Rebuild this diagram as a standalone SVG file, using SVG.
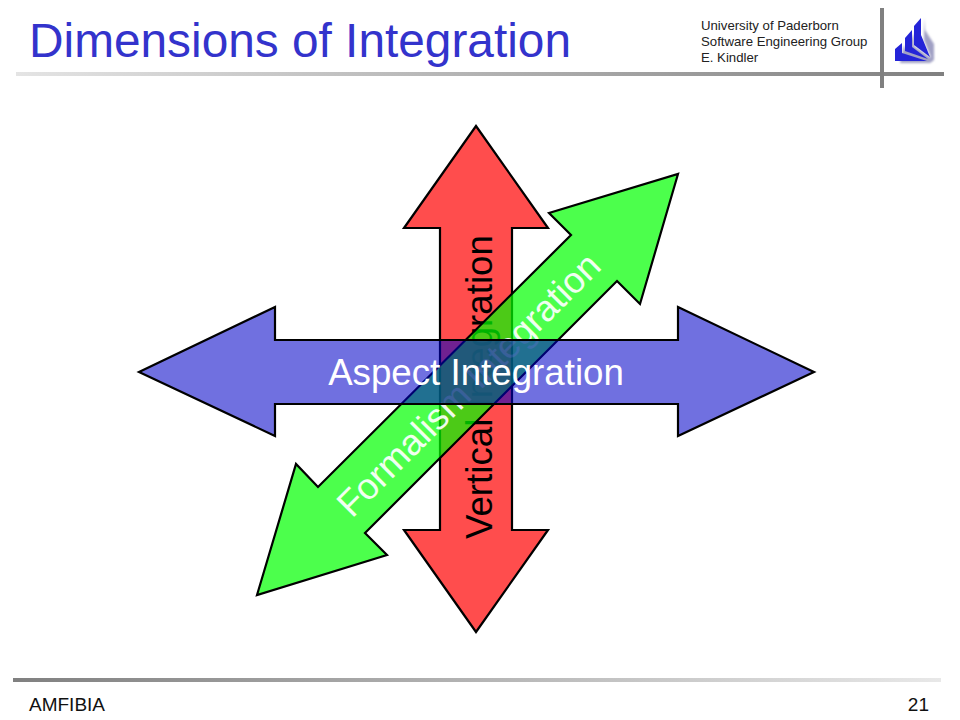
<svg xmlns="http://www.w3.org/2000/svg" width="960" height="720" viewBox="0 0 960 720">
<style>
.sans{font-family:"Liberation Sans",Arial,sans-serif}
.arrow{stroke:#000;stroke-width:2.2;stroke-linejoin:miter}
.hdr{font-size:13.2px;fill:#222}
.foot{font-size:19px;fill:#111}
.lbl{font-size:36.7px}
</style>
<defs>
<linearGradient id="topRule" gradientUnits="userSpaceOnUse" x1="16" y1="0" x2="944" y2="0"><stop offset="0" stop-color="#e4e4e4"/><stop offset="1" stop-color="#808080"/></linearGradient>
<linearGradient id="botRule" gradientUnits="userSpaceOnUse" x1="13" y1="0" x2="941" y2="0"><stop offset="0" stop-color="#808080"/><stop offset="1" stop-color="#e8e8e8"/></linearGradient>
<linearGradient id="vertText" gradientUnits="userSpaceOnUse" x1="135" y1="0" x2="199" y2="0"><stop offset="0" stop-color="#000"/><stop offset="0" stop-color="#000" stop-opacity=".35"/><stop offset="1" stop-color="#000" stop-opacity=".35"/><stop offset="1" stop-color="#000"/></linearGradient>
<linearGradient id="formText" gradientUnits="userSpaceOnUse" x1="214.2" y1="-38.9" x2="169" y2="6.4"><stop offset="0" stop-color="#fff" stop-opacity=".92"/><stop offset="0" stop-color="#fff" stop-opacity=".3"/><stop offset="1" stop-color="#fff" stop-opacity=".3"/><stop offset="1" stop-color="#fff" stop-opacity=".92"/></linearGradient>
<filter id="soft" x="-30%" y="-30%" width="160%" height="160%"><feGaussianBlur stdDeviation="1.2"/></filter>
</defs>
<rect width="960" height="720" fill="#fff"/>
<g id="header">
<text class="sans" x="29" y="57" font-size="47.8" fill="#3333cc">Dimensions of Integration</text>
<rect x="16" y="72" width="928" height="4" fill="url(#topRule)"/>
<rect x="880" y="8" width="4" height="80" fill="#808080"/>
<text class="sans hdr" x="701" y="30">University of Paderborn</text>
<text class="sans hdr" x="701" y="46">Software Engineering Group</text>
<text class="sans hdr" x="701" y="62">E. Kindler</text>
</g>
<g id="logo">
<path d="M900 63 H930 L934 60 V44 L925 30 L924 18 L924 40 L931 58 L914 46 V33 L906 50 L904 45 Z" fill="#a0a0c4" filter="url(#soft)"/>
<path d="M895 49 L902 43 V53 L927 61 H895 Z" fill="#2424d8"/>
<path d="M905 38 L912 30 V47 L928 59 L905 51 Z" fill="#2424d8"/>
<path d="M914 26 L921 18 V35 L930 57 L914 45 Z" fill="#2424d8"/>
</g>
<g id="connectors">
<g id="vertical-integration">
<path class="arrow" fill="#ff4d4d" d="M476 126 L548 228 H512 V530 H548 L476 632 L404 530 H440 V228 H404 Z"/>
<text class="sans lbl" transform="translate(492 539) rotate(-90)" fill="url(#vertText)">Vertical Integration</text>
</g>
<g id="formalism-integration">
<path class="arrow" fill="#00ff00" fill-opacity=".7" d="M678 174 L640 304 L617 281 L365 533 L387 555 L257 595 L296 464 L318 487 L571 235 L549 213 Z"/>
<text class="sans lbl" transform="translate(352 519) rotate(-45)" fill="url(#formText)">Formalism Integration</text>
</g>
<g id="aspect-integration">
<path class="arrow" fill="#0000c8" fill-opacity=".56" d="M139 372 L275 307 V340 H678 V307 L814 372 L678 436 V404 H275 V436 Z"/>
<text class="sans lbl" x="476" y="385" text-anchor="middle" fill="#fff">Aspect Integration</text>
</g>
</g>
<g id="footer">
<rect x="13" y="678" width="928" height="4" fill="url(#botRule)"/>
<text class="sans foot" x="29" y="711">AMFIBIA</text>
<text class="sans foot" x="929" y="711" text-anchor="end">21</text>
</g>
</svg>
